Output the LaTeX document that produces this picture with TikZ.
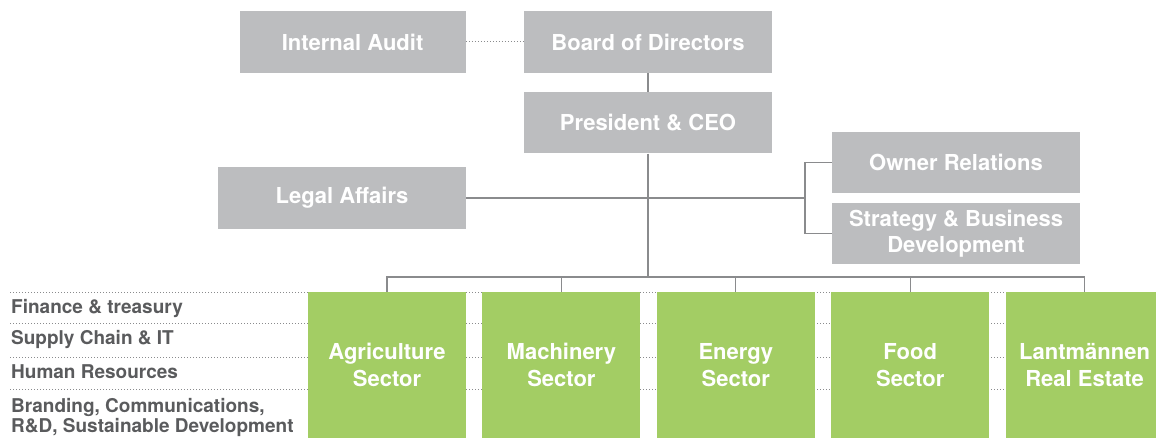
\documentclass[tikz,border=0pt]{standalone}
\usepackage{fontspec}
\setmainfont{TeX Gyre Heros}
\usetikzlibrary{positioning, backgrounds}
\definecolor{boxgray}{HTML}{BCBDBF}
\definecolor{sectorgreen}{HTML}{A3CD64}
\definecolor{linegray}{HTML}{8A8B8D}
\definecolor{labelgray}{HTML}{5A5B5D}

\begin{document}
\begin{tikzpicture}[
    x=1pt, y=-1pt,
    unit/.style={fill=boxgray, text=white, font=\bfseries\fontsize{22}{26}\selectfont, align=center, inner sep=0pt, minimum width=248pt, minimum height=62pt},
    sector/.style={fill=sectorgreen, text=white, font=\bfseries\fontsize{22}{27}\selectfont, align=center, inner sep=0pt, minimum width=158pt, minimum height=146pt},
    staff/.style={anchor=west, inner sep=0pt, text=labelgray, align=left, font=\bfseries\fontsize{19}{20}\selectfont},
    link/.style={draw=linegray, line width=1.2pt},
    dots/.style={draw=linegray, line width=1pt, dotted},
]
    \useasboundingbox (0,0) rectangle (1156,438);
    \clip (0,0) rectangle (1156,438);

    \node[unit] (board) at (648,42) {Board of Directors};
    \node[unit, minimum width=226pt, left=58pt of board] (audit) {Internal Audit};
    \node[unit, minimum height=61pt, below=19pt of board] (ceo) {President \& CEO};
    \node[unit] (legal) at (342,198) {Legal Affairs};
    \node[unit, minimum height=61pt] (owner) at (956,162.5) {Owner Relations};
    \node[unit, minimum height=61pt, below=10pt of owner] (strategy) {Strategy \& Business\\Development};

    \node[sector] (agri) at (387,365) {Agriculture\\Sector};
    \node[sector, right=16pt of agri] (mach) {Machinery\\Sector};
    \node[sector, right=16pt of mach] (energy) {Energy\\Sector};
    \node[sector, right=16pt of energy] (food) {Food\\Sector};
    \node[sector, right=16pt of food] (estate) {Lantmännen\\Real Estate};

    % Group functions
    \node[staff] (finance) at (11,309) {Finance \& treasury};
    \node[staff] (supply) at (11,340) {Supply Chain \& IT};
    \node[staff] (hr) at (11,372) {Human Resources};
    \node[staff] (brand) at (11,417) {Branding, Communications,\\R\&D, Sustainable Development};

    \begin{scope}[on background layer]
        \foreach \y in {292, 323.5, 357, 389}
            \draw[dots] (10,\y) -- (1145,\y);
    \end{scope}

    \coordinate (bus) at (648,277);
    \coordinate (fork) at (805,198);

    \draw[dots] (audit) -- (board);
    \draw[link] (board) -- (ceo);
    \draw[link] (ceo) -- (bus);
    \draw[link] (legal) -- (fork);
    \draw[link] (owner.west) -| (fork) |- (strategy.west);
    \draw[link] (agri.north) |- (bus) -| (estate.north);
    \foreach \s in {mach, energy, food}
        \draw[link] (\s.north) -- (\s.north |- bus);
\end{tikzpicture}
\end{document}
